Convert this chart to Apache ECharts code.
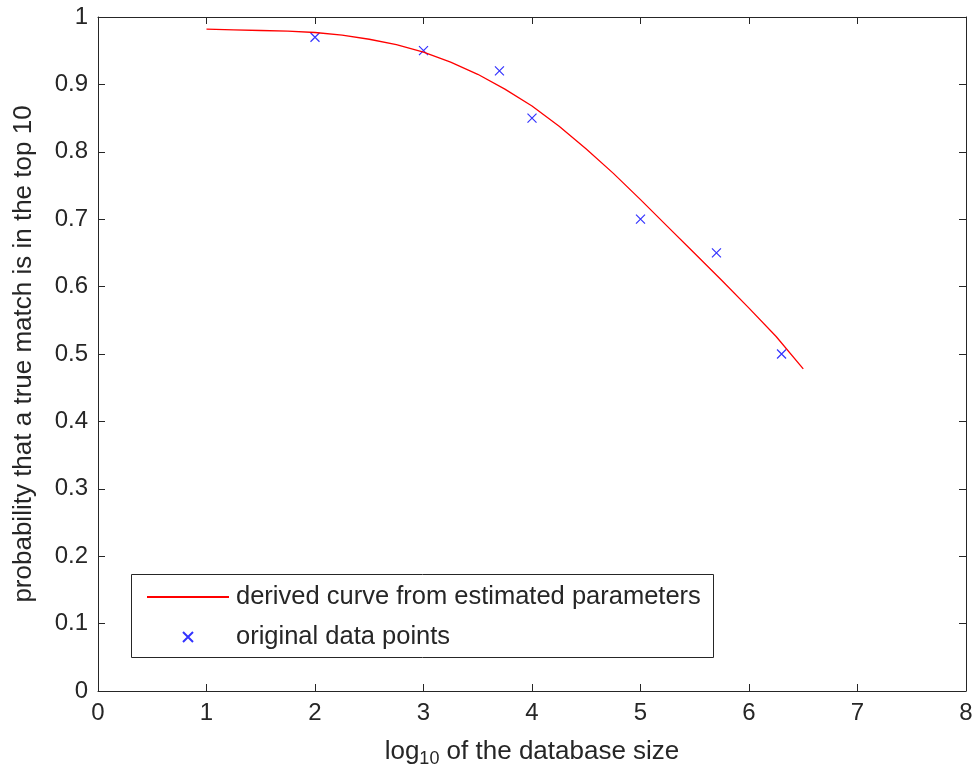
<!DOCTYPE html>
<html>
<head>
<meta charset="utf-8">
<script src="https://cdn.jsdelivr.net/npm/echarts@6/dist/echarts.min.js"></script>
<style>
html, body { margin: 0; padding: 0; background: #fff; }
#chart { width: 979px; height: 774px; }
</style>
</head>
<body>
<div id="chart"></div>
<script>
// fitted curve
var curveX = [1, 1.25, 1.5, 1.75, 2, 2.25, 2.5, 2.75, 3, 3.25, 3.5, 3.75, 4,
              4.25, 4.5, 4.75, 5, 5.25, 5.5, 5.75, 6, 6.25, 6.5];
var curveY = [0.982, 0.981, 0.980, 0.979, 0.977, 0.973, 0.967, 0.959, 0.948, 0.933, 0.915, 0.893, 0.868,
              0.838, 0.804, 0.768, 0.729, 0.689, 0.649, 0.609, 0.568, 0.526, 0.478];
// measured points
var pointX = [2, 3, 3.7, 4, 5, 5.7, 6.3];
var pointY = [0.97, 0.95, 0.92, 0.85, 0.70, 0.65, 0.50];

var curveName = 'derived curve from estimated parameters';
var pointName = 'original data points';

var font = 'Liberation Sans';
var ink = '#262626';
var xMark = 'path://M0,0L10,10M10,0L0,10';

var chart = echarts.init(document.getElementById('chart'), null, {renderer: 'canvas'});

function boxAxis(extra) {
    return Object.assign({
        axisLine: {show: true, onZero: false, lineStyle: {color: ink, width: 1}},
        axisTick: {show: true, inside: true, length: 7, lineStyle: {color: ink}},
        splitLine: {show: false}
    }, extra);
}

var option = {
    animation: false,
    backgroundColor: '#fff',
    grid: {left: 98, right: 13, top: 17, bottom: 83, containLabel: false},
    xAxis: [
        boxAxis({
            type: 'value', min: 0, max: 8, interval: 1, position: 'bottom',
            name: 'log{sub|10} of the database size',
            nameLocation: 'middle', nameGap: 45,
            nameTextStyle: {
                fontFamily: font, fontSize: 26, color: ink,
                rich: {sub: {fontFamily: font, fontSize: 18, color: ink, padding: [14, 0, 0, 0]}}
            },
            axisLabel: {fontFamily: font, fontSize: 24, color: ink, margin: 10}
        }),
        boxAxis({
            type: 'value', min: 0, max: 8, interval: 1, position: 'top',
            axisLabel: {show: false}
        })
    ],
    yAxis: [
        boxAxis({
            type: 'value', min: 0, max: 1, interval: 0.1, position: 'left',
            name: 'probability that a true match is in the top 10',
            nameLocation: 'middle', nameGap: 61,
            nameTextStyle: {fontFamily: font, fontSize: 26, color: ink},
            axisLabel: {
                fontFamily: font, fontSize: 24, color: ink, margin: 10,
                formatter: function (v) { return v === 0 || v === 1 ? String(v) : v.toFixed(1); }
            }
        }),
        boxAxis({
            type: 'value', min: 0, max: 1, interval: 0.1, position: 'right',
            axisLabel: {show: false}
        })
    ],
    legend: {
        orient: 'vertical', left: 141, top: 579, z: 5,
        itemWidth: 82, itemHeight: 10, itemGap: 14,
        textStyle: {fontFamily: font, fontSize: 25.5, color: ink, padding: [0, 0, 0, 2]},
        data: [
            {name: curveName, itemStyle: {opacity: 0}},
            {name: pointName}
        ]
    },
    graphic: [{
        type: 'rect', left: 131, top: 574, z: 1,
        shape: {width: 582, height: 83},
        style: {fill: '#fff', stroke: ink, lineWidth: 1}
    }],
    series: [
        {
            name: curveName, type: 'line', xAxisIndex: 0, yAxisIndex: 0,
            data: curveX.map(function (x, i) { return [x, curveY[i]]; }),
            symbol: 'none', smooth: false,
            lineStyle: {color: '#ff0000', width: 1.3}, itemStyle: {color: '#ff0000'}
        },
        {
            name: pointName, type: 'scatter', xAxisIndex: 0, yAxisIndex: 0,
            data: pointX.map(function (x, i) { return [x, pointY[i]]; }),
            symbol: xMark, symbolSize: 9,
            itemStyle: {color: 'none', borderColor: '#0000ff', borderWidth: 1.2}
        }
    ]
};
chart.setOption(option);
</script>
</body>
</html>
